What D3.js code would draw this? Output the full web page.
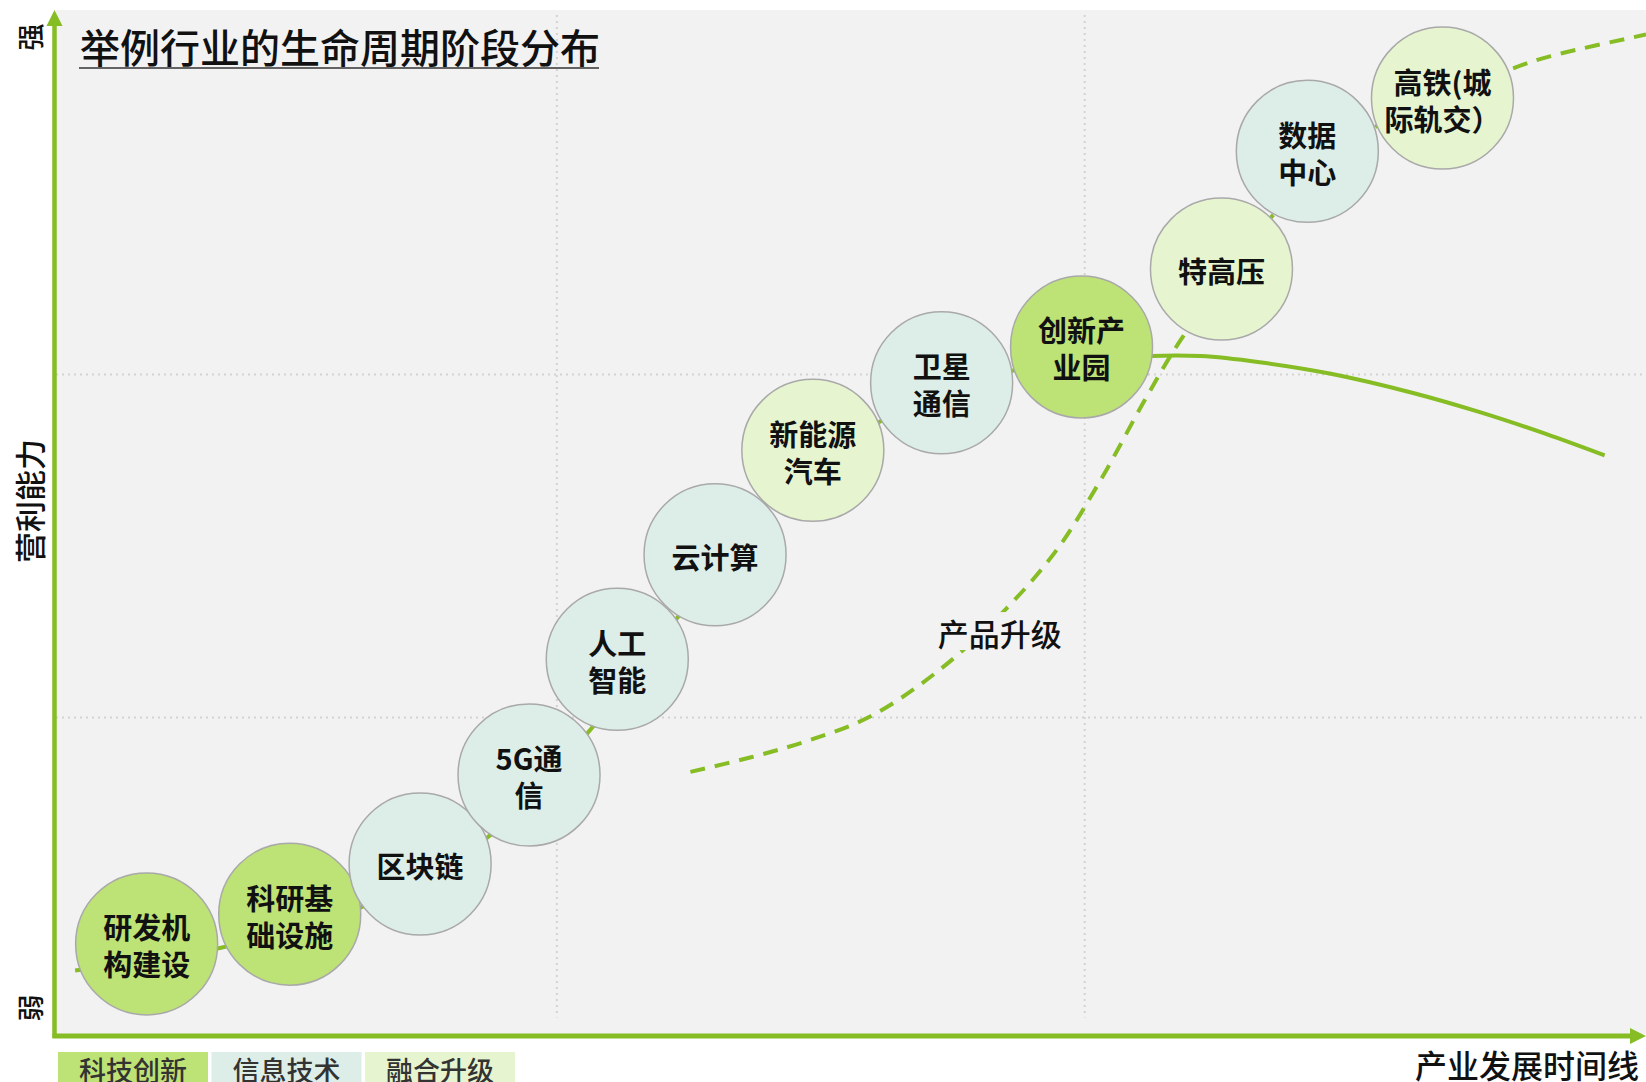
<!DOCTYPE html>
<html>
<head>
<meta charset="utf-8">
<script src="https://cdn.jsdelivr.net/npm/d3@7"></script>
<style>
  html, body { margin: 0; padding: 0; background: #fff; }
  svg { display: block; font-family: "Noto Sans CJK SC", "Noto Sans", sans-serif; }
</style>
</head>
<body>
<svg id="chart" width="1646" height="1082"></svg>
<script>
// industries along the life cycle (x = time, y = profitability, 0-100)
const industries = [
  ['研发机', '构建设'], ['科研基', '础设施'], ['区块链'], ['5G通', '信'],
  ['人工', '智能'], ['云计算'], ['新能源', '汽车'], ['卫星', '通信'],
  ['创新产', '业园'], ['特高压'], ['数据', '中心'], ['高铁(城', '际轨交）']
];
const industryX = [5.7, 14.7, 22.9, 29.75, 35.3, 41.45, 47.6, 55.7, 64.5, 73.3, 78.7, 87.2];
const industryY = [8.8, 11.7, 16.6, 25.3, 36.6, 46.8, 57.0, 63.6, 67.1, 74.7, 86.2, 91.4];
const industryCat = [0, 0, 1, 1, 1, 1, 2, 1, 0, 2, 1, 2];

const categories = ['科技创新', '信息技术', '融合升级'];
const catColors = ['#bde275', '#ddeee8', '#e6f5cf'];

// main life-cycle curve (solid)
const lifeX = [1.2, 10.3, 19.25, 27.1, 33.6, 39.1, 44.65, 51.8, 60.2, 68.9, 72.0, 75.7, 80.1, 85.35, 89.5, 93.7, 97.4];
const lifeY = [6.2, 8.4, 12.4, 19.15, 29.7, 40.7, 51.7, 59.8, 64.8, 66.2, 66.2, 65.6, 64.5, 62.6, 60.75, 58.6, 56.5];

// product upgrade curve (dashed)
const upX = [39.9, 43.65, 47.2, 51.2, 55.6, 59.8, 62.95, 65.7, 68.55, 70.75, 76.5, 83.0, 91.8, 94.0, 100];
const upY = [25.6, 27.0, 28.6, 31.0, 35.6, 41.6, 47.3, 54.1, 62.1, 67.8, 79.9, 88.6, 94.4, 95.5, 97.6];

const xGrid = [31.5, 64.7];
const yGrid = [30.9, 64.4];

const svg = d3.select('#chart');
const green = '#86bc24';
const x = d3.scaleLinear().domain([0, 100]).range([56, 1646]);
const y = d3.scaleLinear().domain([0, 100]).range([1034, 10]);
const R = 71;

// plot background
svg.append('rect')
  .attr('x', x(0)).attr('y', y(100))
  .attr('width', x(100) - x(0)).attr('height', y(0) - y(100))
  .attr('fill', '#f2f2f2');

const defs = svg.append('defs');
defs.append('clipPath').attr('id', 'plotclip')
  .append('rect')
  .attr('x', x(0)).attr('y', y(100))
  .attr('width', x(100) - x(0)).attr('height', y(0) - y(100));

// dotted grid
svg.append('g').selectAll('line')
  .data(xGrid)
  .enter().append('line')
  .attr('x1', (d) => x(d)).attr('x2', (d) => x(d))
  .attr('y1', y(99.5)).attr('y2', y(1.6))
  .attr('stroke', '#d3d3d3').attr('stroke-width', 2)
  .attr('stroke-dasharray', '2,4');
svg.append('g').selectAll('line')
  .data(yGrid)
  .enter().append('line')
  .attr('x1', x(0)).attr('x2', x(100))
  .attr('y1', (d) => y(d)).attr('y2', (d) => y(d))
  .attr('stroke', '#d3d3d3').attr('stroke-width', 2)
  .attr('stroke-dasharray', '2,4');

const line = d3.line()
  .x((d) => x(d[0]))
  .y((d) => y(d[1]))
  .curve(d3.curveCatmullRom.alpha(0.5));

const curves = svg.append('g').attr('clip-path', 'url(#plotclip)');

curves.append('path')
  .datum(lifeX.map((d, i) => [d, lifeY[i]]))
  .attr('d', line)
  .attr('fill', 'none')
  .attr('stroke', green)
  .attr('stroke-width', 4);

curves.append('path')
  .datum(upX.map((d, i) => [d, upY[i]]))
  .attr('d', line)
  .attr('fill', 'none')
  .attr('stroke', green)
  .attr('stroke-width', 4)
  .attr('stroke-dasharray', '15,10');

// label of the dashed curve, with a patch of background behind it
const upLabel = svg.append('g').attr('transform', `translate(${x(59.35)},${y(39.25)})`);
upLabel.append('rect')
  .attr('x', -66).attr('y', -20).attr('width', 132).attr('height', 38)
  .attr('fill', '#f2f2f2');
upLabel.append('text')
  .attr('text-anchor', 'middle')
  .attr('dominant-baseline', 'central')
  .attr('font-size', 31)
  .attr('font-weight', 500)
  .attr('fill', '#111')
  .text('产品升级');

// industry bubbles
const bubbles = svg.append('g').selectAll('g')
  .data(industries)
  .enter().append('g')
  .attr('transform', (d, i) => `translate(${x(industryX[i])},${y(industryY[i])})`);

bubbles.append('circle')
  .attr('r', R)
  .attr('fill', (d, i) => catColors[industryCat[i]])
  .attr('stroke', '#a9a9a9')
  .attr('stroke-width', 1.5);

bubbles.each(function (d) {
  const g = d3.select(this);
  const lh = 37;
  d.forEach((t, k) => {
    g.append('text')
      .attr('text-anchor', 'middle')
      .attr('dominant-baseline', 'central')
      .attr('y', (k - (d.length - 1) / 2) * lh + 1)
      .attr('font-size', 29)
      .attr('font-weight', 'bold')
      .attr('fill', '#111')
      .text(t);
  });
});

// axes with arrow heads
const axes = svg.append('g');
axes.append('line')
  .attr('x1', x(0) - 1.5).attr('x2', x(0) - 1.5)
  .attr('y1', y(0) + 4).attr('y2', y(100) + 12)
  .attr('stroke', green).attr('stroke-width', 4.5);
axes.append('path')
  .attr('d', `M${x(0) - 1.5},${y(100)} l-8,16 l16,0 z`)
  .attr('fill', green);
axes.append('line')
  .attr('x1', x(0) - 3.5).attr('x2', x(100) - 12)
  .attr('y1', y(0) + 2).attr('y2', y(0) + 2)
  .attr('stroke', green).attr('stroke-width', 5);
axes.append('path')
  .attr('d', `M${x(100)},${y(0) + 2} l-16,-8 l0,16 z`)
  .attr('fill', green);

// title
svg.append('text')
  .attr('x', 80).attr('y', 63)
  .attr('font-size', 40)
  .attr('font-weight', 500)
  .attr('fill', '#111')
  .text('举例行业的生命周期阶段分布');
svg.append('line')
  .attr('x1', 79).attr('x2', 599)
  .attr('y1', 68).attr('y2', 68)
  .attr('stroke', '#333').attr('stroke-width', 1.5);

// axis labels
const rotLabel = (txt, cx, cy, size) => svg.append('text')
  .attr('transform', `translate(${cx},${cy}) rotate(-90)`)
  .attr('text-anchor', 'middle')
  .attr('dominant-baseline', 'central')
  .attr('font-size', size)
  .attr('font-weight', 500)
  .attr('fill', '#111')
  .text(txt);
rotLabel('强', 29, 37, 27);
rotLabel('弱', 29, 1008, 27);
rotLabel('营利能力', 28, 501, 31);

svg.append('text')
  .attr('x', 1639).attr('y', 1078)
  .attr('text-anchor', 'end')
  .attr('font-size', 32)
  .attr('font-weight', 500)
  .attr('fill', '#111')
  .text('产业发展时间线');

// legend (boxes run off the bottom edge)
const legend = svg.append('g').selectAll('g')
  .data(categories)
  .enter().append('g')
  .attr('transform', (d, i) => `translate(${58 + i * 153.5},1052)`);
legend.append('rect')
  .attr('width', 150).attr('height', 40)
  .attr('fill', (d, i) => catColors[i]);
legend.append('text')
  .attr('x', 75).attr('y', 29)
  .attr('text-anchor', 'middle')
  .attr('font-size', 27)
  .attr('font-weight', 500)
  .attr('fill', '#333')
  .text((d) => d);
</script>
</body>
</html>
